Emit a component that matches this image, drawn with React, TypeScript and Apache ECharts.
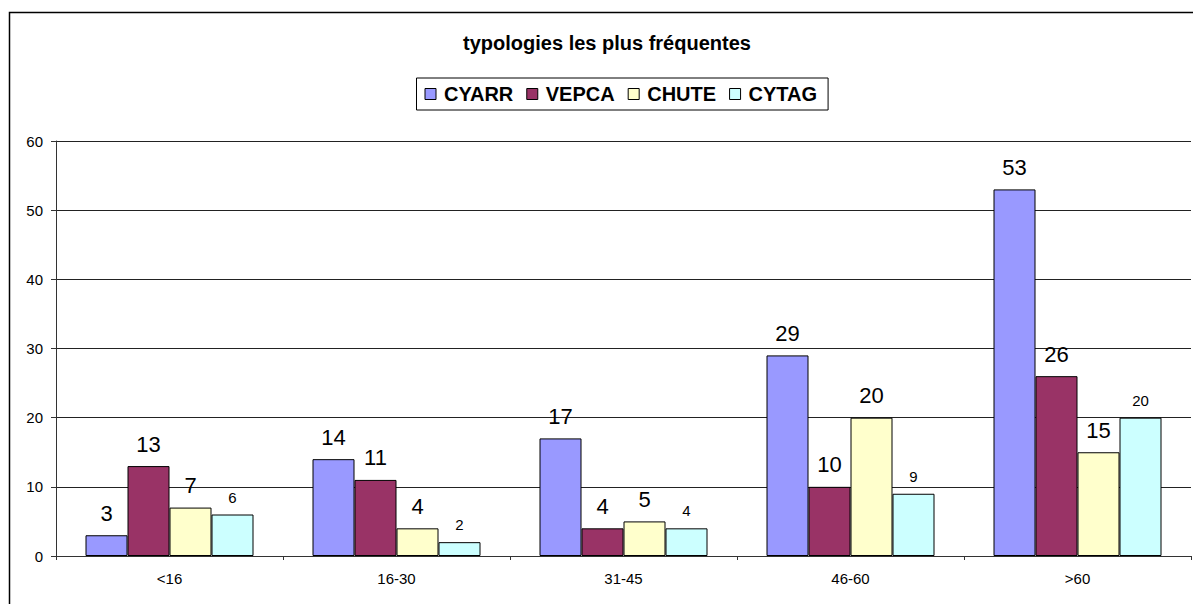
import React, { useEffect, useRef } from "react";
import * as echarts from "echarts";

const categories = ["<16", "16-30", "31-45", "46-60", ">60"];
const seriesNames = ["CYARR", "VEPCA", "CHUTE", "CYTAG"];
const cyarr = [3, 14, 17, 29, 53];
const vepca = [13, 11, 4, 10, 26];
const chute = [7, 4, 5, 20, 15];
const cytag = [6, 2, 4, 9, 20];
const colors = ["#9999FF", "#993366", "#FFFFCC", "#CCFFFF"];
const labelSizes = [22, 22, 22, 15];
const titleText = "typologies les plus fréquentes";

const FONT = 'Arial, "Liberation Sans", sans-serif';

export default function App() {
  const ref = useRef<HTMLDivElement>(null);
  useEffect(() => {
    if (!ref.current) return;
    const chart = echarts.init(ref.current, null, { renderer: "svg" });
    const data = [cyarr, vepca, chute, cytag];
    chart.setOption({
      animation: false,
      backgroundColor: "#ffffff",
      textStyle: { fontFamily: FONT },
      title: {
        text: titleText,
        left: 607,
        textAlign: "center",
        top: 33,
        padding: 0,
        textStyle: { fontFamily: FONT, fontWeight: "bold", fontSize: 20, color: "#000" },
      },
      legend: {
        data: seriesNames,
        left: 416.5,
        top: 78,
        orient: "horizontal",
        padding: [6, 11, 6, 8],
        borderColor: "#000",
        borderWidth: 1,
        itemWidth: 11,
        itemHeight: 11,
        itemGap: 13,
        icon: "rect",
        itemStyle: { borderColor: "#000", borderWidth: 1 },
        textStyle: { fontFamily: FONT, fontWeight: "bold", fontSize: 20, color: "#000", padding: [0, 0, 0, 3] },
      },
      grid: { left: 56, right: 2, top: 141, bottom: 48, containLabel: false },
      xAxis: {
        type: "category",
        data: categories,
        axisLine: { show: true, lineStyle: { color: "#333", width: 1 } },
        axisTick: { show: true, length: 4, lineStyle: { color: "#333" } },
        axisLabel: { fontFamily: FONT, fontSize: 15, color: "#000", margin: 15 },
      },
      yAxis: {
        type: "value",
        min: 0,
        max: 60,
        interval: 10,
        axisLine: { show: true, lineStyle: { color: "#333", width: 1 } },
        axisTick: { show: true, length: 5, lineStyle: { color: "#333" } },
        axisLabel: { fontFamily: FONT, fontSize: 15, color: "#000", margin: 13 },
        splitLine: { show: true, lineStyle: { color: "#222", width: 1 } },
      },
      series: seriesNames.map((name, i) => ({
        name,
        type: "bar",
        data: data[i],
        barWidth: 42,
        barGap: "0%",
        itemStyle: { color: colors[i], borderColor: "#000", borderWidth: 1 },
        label: {
          show: true,
          position: "top",
          distance: i === 3 ? 10 : 11,
          fontFamily: FONT,
          fontSize: labelSizes[i],
          color: "#000",
        },
      })),
      graphic: [
        {
          type: "rect",
          shape: { x: 9.5, y: 12.5, width: 1300, height: 700 },
          style: { fill: "none", stroke: "#000", lineWidth: 1.5 },
          silent: true,
        },
      ],
    });
    return () => chart.dispose();
  }, []);
  return (
    <div
      ref={ref}
      style={{ position: "fixed", left: 0, top: 0, width: 1193, height: 604 }}
    />
  );
}
